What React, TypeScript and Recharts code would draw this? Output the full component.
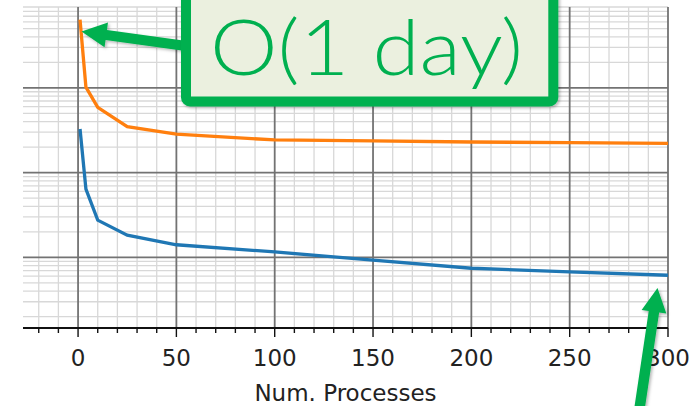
import React from "react";
import { CartesianGrid, Label, Line, LineChart, XAxis, YAxis } from "recharts";

// values (log y, time per run)
const processes = [1, 4, 10, 25, 50, 100, 150, 200, 250, 300];
const serialTimes = [63700, 10200, 5900, 3490, 2840, 2430, 2365, 2300, 2256, 2220];
const parallelTimes = [3275, 640, 275, 183, 141, 116, 92.7, 74.5, 67.4, 61.6];

const xMajorTicks = [0, 50, 100, 150, 200, 250, 300];
const xMinorTicks = [
  -20, -10, 10, 20, 30, 40, 60, 70, 80, 90, 110, 120, 130, 140, 160, 170, 180, 190,
  210, 220, 230, 240, 260, 270, 280, 290,
];
const yMajorTicks = [100, 1000, 10000];
const yMinorTicks = [
  20, 30, 40, 50, 60, 70, 80, 90, 200, 300, 400, 500, 600, 700, 800, 900, 2000, 3000,
  4000, 5000, 6000, 7000, 8000, 9000, 20000, 30000, 40000, 50000, 60000, 70000, 80000, 90000,
];

const xDomain = [-28, 300];
const yDomain = [14.7, 90000];

const annotationText = "O(1 day)";
const xLabel = "Num. Processes";

const chartData = processes.map((p, i) => ({
  p,
  serial: serialTimes[i],
  parallel: parallelTimes[i],
}));

const GREEN = "#00b050";
const AXIS = "#111";

function YTick({ x, y, payload }: any) {
  const len = yMajorTicks.includes(payload.value) ? 10 : 5.5;
  return <line x1={x - len} x2={x} y1={y} y2={y} stroke={AXIS} strokeWidth={1.4} />;
}

function XTick({ x, y, payload }: any) {
  const major = xMajorTicks.includes(payload.value);
  return (
    <g>
      <line x1={x} x2={x} y1={y} y2={y + (major ? 9 : 5)} stroke={AXIS} strokeWidth={1.4} />
      {major && (
        <text
          x={x}
          y={y + 38}
          textAnchor="middle"
          fontFamily="DejaVu Sans"
          fontSize={23}
          fill="#222"
        >
          {payload.value}
        </text>
      )}
    </g>
  );
}

// polygon for a block arrow from tail to tip
function arrowPoints(
  tail: [number, number],
  tip: [number, number],
  shaft: number,
  headLen: number,
  headW: number
) {
  const dx = tip[0] - tail[0];
  const dy = tip[1] - tail[1];
  const len = Math.hypot(dx, dy);
  const ux = dx / len;
  const uy = dy / len;
  const nx = -uy;
  const ny = ux;
  const bx = tip[0] - ux * headLen;
  const by = tip[1] - uy * headLen;
  const pts = [
    [tail[0] + (nx * shaft) / 2, tail[1] + (ny * shaft) / 2],
    [bx + (nx * shaft) / 2, by + (ny * shaft) / 2],
    [bx + (nx * headW) / 2, by + (ny * headW) / 2],
    tip,
    [bx - (nx * headW) / 2, by - (ny * headW) / 2],
    [bx - (nx * shaft) / 2, by - (ny * shaft) / 2],
    [tail[0] - (nx * shaft) / 2, tail[1] - (ny * shaft) / 2],
  ];
  return pts.map((q) => q.join(",")).join(" ");
}

function Annotation() {
  return (
    <svg
      width={692}
      height={406}
      style={{ position: "absolute", left: 0, top: 0, pointerEvents: "none" }}
    >
      <defs>
        <filter id="shadow" x="-20%" y="-20%" width="140%" height="140%">
          <feDropShadow dx="1.5" dy="1.5" stdDeviation="1.5" floodColor="#000" floodOpacity="0.3" />
        </filter>
      </defs>
      <polygon points={arrowPoints([186, 46], [81.5, 31.5], 10, 25, 25)} fill={GREEN} filter="url(#shadow)" />
      <polygon points={arrowPoints([639, 412], [657.5, 288], 10.5, 24, 25)} fill={GREEN} filter="url(#shadow)" />
      <rect
        x={186}
        y={-20}
        width={367.3}
        height={121.5}
        rx={4}
        fill="#ebf0df"
        stroke={GREEN}
        strokeWidth={10}
        filter="url(#shadow)"
      />
      <text
        x={210}
        y={75}
        fontFamily="Lato"
        fontWeight={300}
        fontSize={76}
        fill={GREEN}
        textLength={313}
        lengthAdjust="spacingAndGlyphs"
      >
        {annotationText}
      </text>
    </svg>
  );
}

export default function App() {
  return (
    <div style={{ position: "absolute", left: 0, top: 0, width: 692, height: 406, background: "#fff" }}>
      <LineChart
        width={692}
        height={406}
        data={chartData}
        margin={{ top: 7, right: 24, left: 23, bottom: 0 }}
      >
        <CartesianGrid
          horizontalValues={yMinorTicks}
          verticalValues={xMinorTicks}
          stroke="#d8d8d8"
          strokeWidth={1.3}
        />
        <CartesianGrid
          horizontalValues={yMajorTicks}
          verticalValues={xMajorTicks}
          stroke="#737373"
          strokeWidth={1.8}
        />
        <XAxis
          dataKey="p"
          type="number"
          domain={xDomain}
          allowDataOverflow
          ticks={[...xMinorTicks, ...xMajorTicks].sort((a, b) => a - b)}
          interval={0}
          tickSize={0}
          tickMargin={0}
          tickLine={false}
          tick={<XTick />}
          axisLine={{ stroke: AXIS, strokeWidth: 2 }}
          height={78}
        >
          <Label
            value={xLabel}
            position="insideBottom"
            offset={5}
            style={{ fontFamily: "DejaVu Sans", fontSize: 23, fill: "#222" }}
          />
        </XAxis>
        <XAxis
          xAxisId="top"
          orientation="top"
          dataKey="p"
          type="number"
          domain={xDomain}
          allowDataOverflow
          tick={false}
          tickLine={false}
          axisLine={{ stroke: AXIS, strokeWidth: 2 }}
          height={0}
        />
        <YAxis
          type="number"
          scale="log"
          domain={yDomain}
          allowDataOverflow
          ticks={[...yMinorTicks, ...yMajorTicks].sort((a, b) => a - b)}
          interval={0}
          tickSize={0}
          tickMargin={0}
          tickLine={false}
          tick={<YTick />}
          axisLine={{ stroke: AXIS, strokeWidth: 2 }}
          width={0}
        />
        <YAxis
          yAxisId="right"
          orientation="right"
          type="number"
          scale="log"
          domain={yDomain}
          allowDataOverflow
          tick={false}
          tickLine={false}
          axisLine={{ stroke: AXIS, strokeWidth: 2 }}
          width={0}
        />
        <Line
          type="linear"
          dataKey="serial"
          stroke="#ff7f0e"
          strokeWidth={3.3}
          dot={false}
          isAnimationActive={false}
        />
        <Line
          type="linear"
          dataKey="parallel"
          stroke="#1f77b4"
          strokeWidth={3.3}
          dot={false}
          isAnimationActive={false}
        />
      </LineChart>
      <Annotation />
    </div>
  );
}
